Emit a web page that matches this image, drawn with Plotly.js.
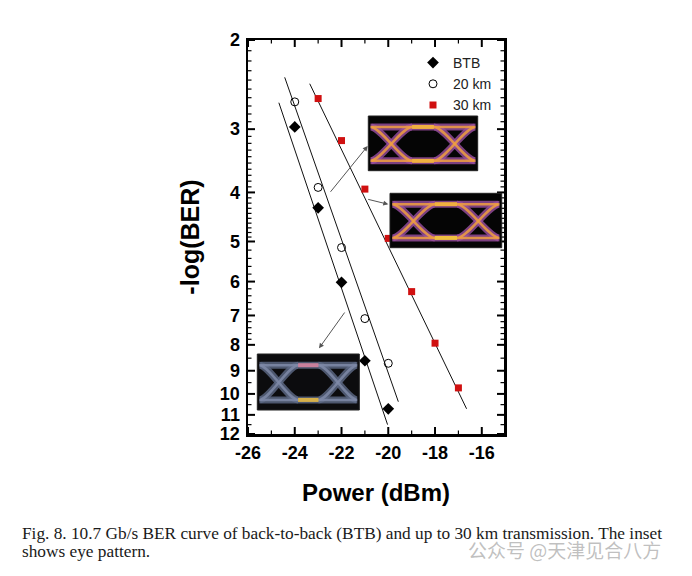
<!DOCTYPE html>
<html>
<head>
<meta charset="utf-8">
<script src="https://cdn.plot.ly/plotly-3.0.1.min.js"></script>
<style>
html,body{margin:0;padding:0;background:#fff;}
#chart{width:692px;height:576px;}
</style>
</head>
<body>
<div id="chart"></div>
<script>
// ---- data ----
const powerTicks = [-26, -24, -22, -20, -18, -16];
const powerMinor = [-25, -23, -21, -19, -17];
const berTicks = [2, 3, 4, 5, 6, 7, 8, 9, 10, 11, 12];

const btbX = [-24, -23, -22, -21, -20];
const btbY = [2.97, 4.29, 6.02, 8.6, 10.7];

const km20X = [-24, -23, -22, -21, -20];
const km20Y = [2.65, 3.91, 5.14, 7.1, 8.7];

const km30X = [-23, -22, -21, -20, -19, -18, -17];
const km30Y = [2.61, 3.16, 3.94, 4.93, 6.28, 7.94, 9.73];

// fitted lines (end points)
const btbFitX = [-24.68, -20.03];
const btbFitY = [2.66, 11.5];
const km20FitX = [-24.43, -19.57];
const km20FitY = [2.37, 10.36];
const km30FitX = [-23.36, -16.65];
const km30FitY = [2.44, 10.7];

const seriesNames = ['BTB', '20 km', '30 km'];

// ---- layout helpers (decoration only) ----
const L = 248, T = 40, W = 256, H = 394;
const XR = [-26, -15.05];
const YR = [Math.log10(12), Math.log10(2)];
const PX = p => (p - L) / W;
const PY = p => (T + H - p) / H;

function minorVals() {
  const v = [];
  for (let a = 2.1; a < 5.0; a += 0.1) v.push(+a.toFixed(2));
  for (let a = 5.2; a < 8.0; a += 0.2) v.push(+a.toFixed(2));
  for (let a = 8.5; a < 12; a += 0.5) v.push(+a.toFixed(2));
  return v.filter(x => Math.abs(x - Math.round(x)) > 0.01);
}

// tick marks inside the frame on all four sides, drawn as line traces
function tickTrace(xVals, yVals, len, width) {
  const xs = [], ys = [];
  const dxData = len / W * (XR[1] - XR[0]);
  const dyLog = len / H * (YR[1] - YR[0]);        // toward top (negative log change)
  const yBot = 12, yTop = 2;
  xVals.forEach(v => {
    xs.push(v, v, null, v, v, null);
    ys.push(yBot, Math.pow(10, YR[0] + dyLog), null, yTop, Math.pow(10, YR[1] - dyLog), null);
  });
  yVals.forEach(v => {
    xs.push(XR[0], XR[0] + dxData, null, XR[1], XR[1] - dxData, null);
    ys.push(v, v, null, v, v, null);
  });
  return {x: xs, y: ys, mode: 'lines', line: {color: '#000', width: width},
          showlegend: false, hoverinfo: 'skip', cliponaxis: false, connectgaps: false};
}

function sCurve(xc, s, y0, y1) {
  return `M${PX(xc - s)},${PY(y0)} C${PX(xc - 0.5 * s)},${PY(y0)} ${PX(xc + 0.5 * s)},${PY(y1)} ${PX(xc + s)},${PY(y1)}`;
}

function eyeShapes(x0, y0, x1, y1, bg, c1, c2, topC, botC) {
  const w = x1 - x0, h = y1 - y0;
  const yt = y0 + 0.2 * h, yb = y1 - 0.18 * h;
  const xc1 = x0 + 0.21 * w, xc2 = x0 + 0.79 * w, s = 0.19 * w;
  const sh = [];
  sh.push({type: 'rect', xref: 'paper', yref: 'paper', x0: PX(x0), x1: PX(x1), y0: PY(y1), y1: PY(y0),
           fillcolor: bg, line: {color: '#222', width: 1}, layer: 'above'});
  const paths = [
    `M${PX(x0 + 0.03 * w)},${PY(yt)} L${PX(x1 - 0.03 * w)},${PY(yt)}`,
    `M${PX(x0 + 0.03 * w)},${PY(yb)} L${PX(x1 - 0.03 * w)},${PY(yb)}`,
    sCurve(xc1, s, yt, yb), sCurve(xc1, s, yb, yt),
    sCurve(xc2, s, yt, yb), sCurve(xc2, s, yb, yt)
  ];
  paths.forEach(p => sh.push({type: 'path', xref: 'paper', yref: 'paper', path: p,
    line: {color: c1, width: 7}, opacity: 0.8, layer: 'above'}));
  paths.forEach(p => sh.push({type: 'path', xref: 'paper', yref: 'paper', path: p,
    line: {color: c2, width: 2.5}, opacity: 0.85, layer: 'above'}));
  sh.push({type: 'path', xref: 'paper', yref: 'paper',
    path: `M${PX(xc1 + s)},${PY(yt)} L${PX(xc2 - s)},${PY(yt)}`, line: {color: topC, width: 4}, layer: 'above'});
  sh.push({type: 'path', xref: 'paper', yref: 'paper',
    path: `M${PX(xc1 + s)},${PY(yb)} L${PX(xc2 - s)},${PY(yb)}`, line: {color: botC, width: 4}, layer: 'above'});
  return sh;
}

const shapes = [].concat(
  eyeShapes(368.3, 116, 477.7, 170.7, '#050505', '#9a4fa0', '#f0a040', '#f0b040', '#f0b040'),
  eyeShapes(390, 193.3, 501.7, 247.7, '#050505', '#9a4fa0', '#f0a040', '#f0b040', '#f0c040'),
  eyeShapes(257.3, 354, 359.3, 410, '#0c0c0e', '#5e6a86', '#7f8aa8', '#c9809c', '#d6b04a')
);

const traces = [
  tickTrace(powerTicks, berTicks, 7, 2),
  tickTrace(powerMinor, minorVals(), 3.5, 1.2),
  {x: btbFitX, y: btbFitY, mode: 'lines', line: {color: '#111', width: 1}, showlegend: false, hoverinfo: 'skip'},
  {x: km20FitX, y: km20FitY, mode: 'lines', line: {color: '#111', width: 1}, showlegend: false, hoverinfo: 'skip'},
  {x: km30FitX, y: km30FitY, mode: 'lines', line: {color: '#111', width: 1}, showlegend: false, hoverinfo: 'skip'},
  {x: btbX, y: btbY, name: seriesNames[0], mode: 'markers', type: 'scatter',
   marker: {symbol: 'diamond', size: 9, color: '#000'}},
  {x: km20X, y: km20Y, name: seriesNames[1], mode: 'markers', type: 'scatter',
   marker: {symbol: 'circle-open', size: 8, color: '#000', line: {width: 1, color: '#000'}}},
  {x: km30X, y: km30Y, name: seriesNames[2], mode: 'markers', type: 'scatter',
   marker: {symbol: 'square', size: 7, color: '#d01010'}}
];

const tickFont = {family: 'Liberation Sans, Arial, sans-serif', size: 18, color: '#000', weight: 'bold'};

const arrow = (hx, hy, tx, ty) => ({
  xref: 'paper', yref: 'paper', x: PX(hx), y: PY(hy), ax: tx - hx, ay: ty - hy,
  text: '', showarrow: true, arrowhead: 2, arrowsize: 1, arrowwidth: 1, arrowcolor: '#555'
});

const layout = {
  width: 692, height: 576,
  margin: {l: L, r: 692 - L - W, t: T, b: 576 - T - H},
  paper_bgcolor: '#fff', plot_bgcolor: '#fff',
  showlegend: true,
  legend: {x: PX(413), y: PY(47), xanchor: 'left', yanchor: 'top', bgcolor: 'rgba(0,0,0,0)',
           font: {family: 'Liberation Sans, Arial, sans-serif', size: 14, color: '#222'},
           tracegroupgap: 0, itemwidth: 30},
  xaxis: {
    range: XR, tickmode: 'array', tickvals: powerTicks, ticktext: powerTicks.map(String),
    ticks: '', mirror: true, ticklabelstandoff: 1,
    showline: true, linewidth: 2.5, linecolor: '#000', showgrid: false, zeroline: false,
    tickfont: tickFont,
    title: {text: 'Power (dBm)', font: {family: 'Liberation Sans, Arial, sans-serif', size: 24, color: '#000', weight: 'bold'}, standoff: 22}
  },
  yaxis: {
    type: 'log', range: YR,
    tickmode: 'array', tickvals: berTicks, ticktext: berTicks.map(String),
    ticks: '', mirror: true, ticklabelstandoff: 2,
    showline: true, linewidth: 2.5, linecolor: '#000', showgrid: false, zeroline: false,
    tickfont: tickFont,
    title: {text: '-log(BER)', font: {family: 'Liberation Sans, Arial, sans-serif', size: 25, color: '#000', weight: 'bold'}, standoff: 13}
  },
  shapes: shapes,
  annotations: [
    arrow(367.7, 146, 329.3, 193.3),
    arrow(388.3, 204.3, 366.7, 199),
    arrow(319, 348.3, 345.7, 311),
    {xref: 'paper', yref: 'paper', x: PX(20), y: PY(533), xanchor: 'left', yanchor: 'middle', showarrow: false,
     align: 'left',
     text: 'Fig. 8. 10.7 Gb/s BER curve of back-to-back (BTB) and up to 30 km transmission. The inset',
     font: {family: 'Liberation Serif, Times New Roman, serif', size: 17.3, color: '#1a1a1a'}},
    {xref: 'paper', yref: 'paper', x: PX(20), y: PY(551), xanchor: 'left', yanchor: 'middle', showarrow: false,
     text: 'shows eye pattern.',
     font: {family: 'Liberation Serif, Times New Roman, serif', size: 17.3, color: '#1a1a1a'}},
    {xref: 'paper', yref: 'paper', x: PX(466), y: PY(549), xanchor: 'left', yanchor: 'middle', showarrow: false,
     text: '公众号 @天津见合八方',
     font: {family: 'Noto Sans CJK SC, sans-serif', size: 19, color: 'rgba(150,150,150,0.6)'}}
  ]
};

Plotly.newPlot('chart', traces, layout, {displayModeBar: false, staticPlot: true});
</script>
</body>
</html>
